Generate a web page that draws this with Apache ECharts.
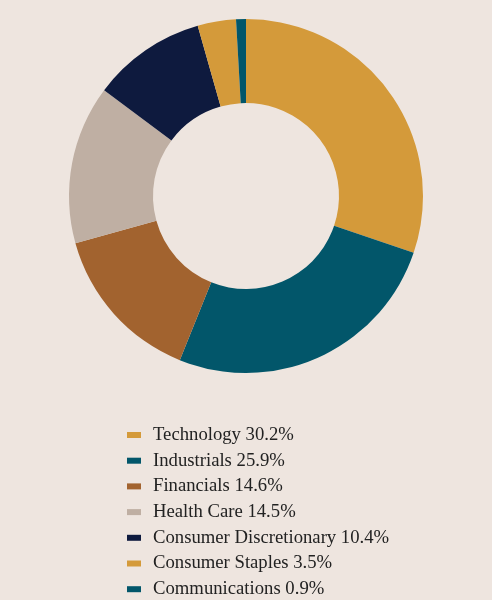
<!DOCTYPE html>
<html>
<head>
<meta charset="utf-8">
<script src="https://cdn.jsdelivr.net/npm/echarts@6/dist/echarts.min.js"></script>
<style>
  html, body { margin: 0; padding: 0; background: #eee5df; }
  #chart { width: 492px; height: 600px; }
</style>
</head>
<body>
<div id="chart"></div>
<script>
const sectors = ['Technology', 'Industrials', 'Financials', 'Health Care', 'Consumer Discretionary', 'Consumer Staples', 'Communications']
const weights = [30.2, 25.9, 14.6, 14.5, 10.4, 3.5, 0.9]
const colors = ['#d49a3a', '#02566a', '#a2632f', '#bfafa3', '#0e1a3e', '#d49a3a', '#02566a']

const chart = echarts.init(document.getElementById('chart'))

chart.setOption({
  backgroundColor: '#eee5df',
  animation: false,
  legend: {
    orient: 'vertical',
    left: 127,
    top: 425.5,
    height: 200,
    padding: 0,
    itemWidth: 14,
    itemHeight: 6,
    itemGap: 6.7,
    icon: 'rect',
    textStyle: {
      fontFamily: 'Liberation Serif',
      fontSize: 18.7,
      lineHeight: 19,
      color: '#222',
      padding: [0, 0, 0, 7]
    },
    formatter: (name) => {
      const i = sectors.indexOf(name)
      return name + ' ' + weights[i].toFixed(1) + '%'
    },
    data: sectors
  },
  series: [{
    type: 'pie',
    center: [246, 196],
    radius: [93, 177],
    startAngle: 90,
    clockwise: true,
    label: { show: false },
    labelLine: { show: false },
    emphasis: { disabled: true },
    itemStyle: { borderWidth: 0 },
    data: sectors.map((name, i) => ({
      name,
      value: weights[i],
      itemStyle: { color: colors[i] }
    }))
  }]
})
</script>
</body>
</html>
